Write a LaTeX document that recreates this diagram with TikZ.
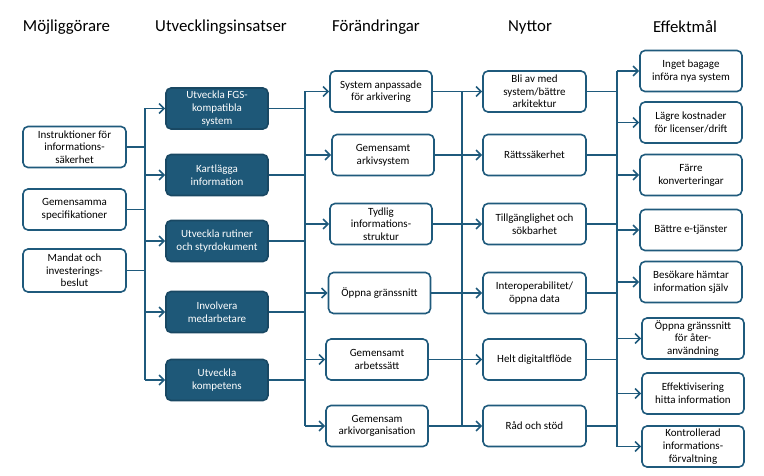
\documentclass[tikz,border=0pt]{standalone}
\usepackage{fontspec}
\setmainfont{Carlito}
\usetikzlibrary{arrows.meta}
\definecolor{navy}{HTML}{1F5A7C}
\definecolor{navyfill}{HTML}{1E5878}
\begin{document}
\begin{tikzpicture}[x=1pt,y=-1pt,
  lbox/.style={draw=navy,line width=1.6pt,rounded corners=5pt,fill=white,
     minimum width=102pt,minimum height=41pt,align=center,font=\fontsize{11}{12.7}\selectfont,inner sep=1pt},
  dbox/.style={lbox,fill=navyfill,draw=navy!80!black,text=white},
  head/.style={font=\fontsize{16.8}{18}\selectfont,anchor=center},
  conn/.style={draw=navy,line width=1.9pt},
  arr/.style={conn,-{Straight Barb[length=5pt,width=10pt,line width=1.6pt]}}]
\useasboundingbox (0,0) rectangle (764,476);

% headings
\node[head] (h1) at (66.5,27) {Möjliggörare};
\node[head] (h2) at (221,27) {Utvecklingsinsatser};
\node[head] (h3) at (376,27) {Förändringar};
\node[head] (h4) at (530,27) {Nyttor};
\node[head] (h5) at (685,27) {Effektmål};

% column 1
\node[lbox,minimum width=103pt] (m1) at (74.5,147) {Instruktioner för\\informations-\\säkerhet};
\node[lbox,minimum width=103pt] (m2) at (74.5,209.5) {Gemensamma\\specifikationer};
\node[lbox,minimum width=103pt,minimum height=43pt] (m3) at (74.5,270.5) {Mandat och\\investerings-\\beslut};

% column 2
\node[dbox] (u1) at (217,108.5) {Utveckla FGS-\\kompatibla\\system};
\node[dbox] (u2) at (217,175) {Kartlägga\\information};
\node[dbox] (u3) at (217,241) {Utveckla rutiner\\och styrdokument};
\node[dbox] (u4) at (217,312) {Involvera\\medarbetare};
\node[dbox] (u5) at (217,380) {Utveckla\\kompetens};

% column 3
\node[lbox] (f1) at (381,91.5) {System anpassade\\för arkivering};
\node[lbox] (f2) at (383,155) {Gemensamt\\arkivsystem};
\node[lbox] (f3) at (381,224) {Tydlig\\informations-\\struktur};
\node[lbox] (f4) at (379.5,293) {Öppna gränssnitt};
\node[lbox] (f5) at (377,359.5) {Gemensamt\\arbetssätt};
\node[lbox] (f6) at (377,426) {Gemensam\\arkivorganisation};

% column 4
\node[lbox,minimum width=103pt] (n1) at (534.5,91.5) {Bli av med\\system/bättre\\arkitektur};
\node[lbox,minimum width=103pt] (n2) at (534.5,155) {Rättssäkerhet};
\node[lbox,minimum width=103pt] (n3) at (534.5,224) {Tillgänglighet och\\sökbarhet};
\node[lbox,minimum width=103pt] (n4) at (534.5,293) {Interoperabilitet/\\öppna data};
\node[lbox,minimum width=103pt] (n5) at (534.5,359.5) {Helt digitaltflöde};
\node[lbox,minimum width=103pt] (n6) at (534.5,426) {Råd och stöd};

% column 5
\node[lbox] (e1) at (691,71) {Inget bagage\\införa nya system};
\node[lbox] (e2) at (691,122.5) {Lägre kostnader\\för licenser/drift};
\node[lbox] (e3) at (691,175) {Färre\\konverteringar};
\node[lbox] (e4) at (691,230) {Bättre e-tjänster};
\node[lbox] (e5) at (691,282) {Besökare hämtar\\information  själv};
\node[lbox] (e6) at (693,338.5) {Öppna gränssnitt\\för åter-\\användning};
\node[lbox] (e7) at (693,393.5) {Effektivisering\\hitta information};
\node[lbox] (e8) at (693,446.5) {Kontrollerad\\informations-\\förvaltning};

% bus coordinates
\coordinate (b1) at (145,0);
\coordinate (b2) at (305,0);
\coordinate (b3) at (462,0);
\coordinate (b4) at (617,0);

% bus 1: column 1 -> column 2
\draw[conn] (b1 |- u1) -- (b1 |- u5);
\foreach \m in {m1,m2,m3} \draw[conn] (\m.east) -- (\m.east -| b1);
\foreach \u in {u1,u2,u3,u4,u5} \draw[arr] (b1 |- \u) -- (\u.west);

% bus 2: column 2 -> column 3
\draw[conn] (b2 |- f1) -- (b2 |- f6);
\foreach \u in {u1,u2,u3,u4,u5} \draw[conn] (\u.east) -- (\u.east -| b2);
\foreach \f in {f1,f2,f3,f4,f5,f6} \draw[arr] (b2 |- \f) -- (\f.west);

% bus 3: column 3 -> column 4
\draw[conn] (b3 |- n1) -- (b3 |- n6);
\foreach \f/\n in {f1/n1,f2/n2,f3/n3,f4/n4,f5/n5,f6/n6} \draw[arr] (\f.east) -- (\f.east -| \n.west);

% bus 4: column 4 -> column 5
\draw[conn] (b4 |- e1) -- (b4 |- e8);
\foreach \n in {n1,n2,n3,n4,n5,n6} \draw[conn] (\n.east) -- (\n.east -| b4);
\foreach \e in {e1,e2,e3,e4,e5,e6,e7,e8} \draw[arr] (b4 |- \e) -- (\e.west);
\end{tikzpicture}
\end{document}
